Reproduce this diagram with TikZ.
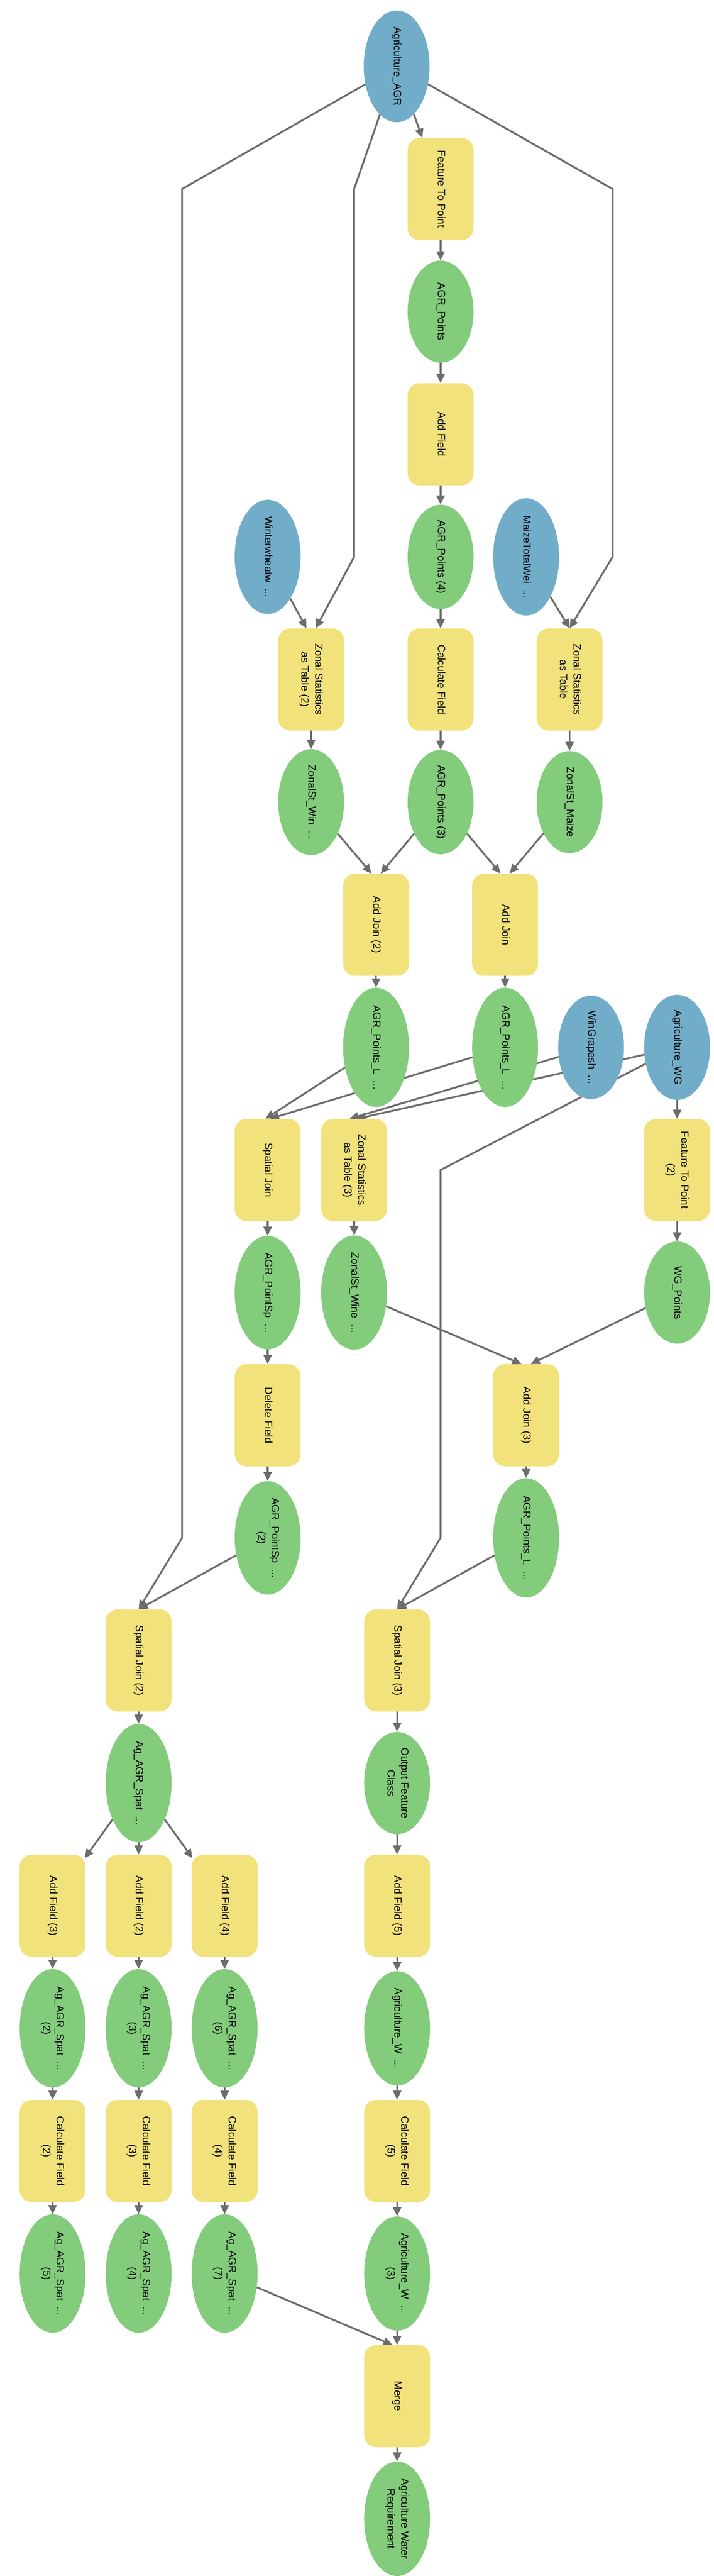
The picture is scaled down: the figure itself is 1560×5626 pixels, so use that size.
\documentclass[tikz,border=0pt]{standalone}
\usepackage{fontspec}
\setmainfont{Liberation Sans}
\usetikzlibrary{arrows.meta,backgrounds,shapes.geometric}
\definecolor{cblue}{RGB}{113,173,200}
\definecolor{cgreen}{RGB}{131,204,124}
\definecolor{cyel}{RGB}{241,226,123}
\definecolor{cline}{RGB}{108,108,108}
\newcommand\rt[1]{\rotatebox{-90}{\fontsize{23}{30}\selectfont\begin{tabular}{@{}c@{}}#1\end{tabular}}}
\tikzset{
 base/.style={minimum width=144pt,minimum height=223pt,inner sep=0pt},
 dat/.style={base,ellipse,fill=cgreen},
 inp/.style={base,ellipse,fill=cblue},
 tool/.style={base,rectangle,rounded corners=26pt,fill=cyel},
 ln/.style={draw=cline,line width=4pt,-{Triangle[length=20pt,width=18pt]}},
}
\begin{document}
\begin{tikzpicture}
\useasboundingbox (0pt,0pt) rectangle (1560pt,-5626pt);
\begin{scope}[yshift=-145pt,x=1pt,y=-267.8pt]
\node[inp] (agr) at (867,0) {\rt{Agriculture\_AGR}};
\node[tool] (ftp) at (963,1) {\rt{Feature To Point}};
\node[dat] (agrp) at (963,2) {\rt{AGR\_Points}};
\node[tool] (af) at (963,3) {\rt{Add Field}};
\node[inp] (ww) at (585,4) {\rt{Winterwheatw\ \ ...}};
\node[dat] (agrp4) at (963,4) {\rt{AGR\_Points (4)}};
\node[inp] (mz) at (1150,4) {\rt{MaizeTotalWei\ \ ...}};
\node[tool] (zs2) at (680,5) {\rt{Zonal Statistics\\as Table (2)}};
\node[tool] (cf) at (963,5) {\rt{Calculate Field}};
\node[tool] (zs) at (1245,5) {\rt{Zonal Statistics\\as Table}};
\node[dat] (zw) at (680,6) {\rt{ZonalSt\_Win\ \ ...}};
\node[dat] (agrp3) at (963,6) {\rt{AGR\_Points (3)}};
\node[dat] (zm) at (1245,6) {\rt{ZonalSt\_Maize}};
\node[tool] (aj2) at (822,7) {\rt{Add Join (2)}};
\node[tool] (aj) at (1104,7) {\rt{Add Join}};
\node[dat] (agl2) at (822,8) {\rt{AGR\_Points\_L\ \ ...}};
\node[dat] (agl) at (1104,8) {\rt{AGR\_Points\_L\ \ ...}};
\node[inp] (wg) at (1292,8) {\rt{WinGrapesh\ \ ...}};
\node[inp] (awg) at (1480,8) {\rt{Agriculture\_WG}};
\node[tool] (sj) at (585,9) {\rt{Spatial Join}};
\node[tool] (zs3) at (774,9) {\rt{Zonal Statistics\\as Table (3)}};
\node[tool] (ftp2) at (1480,9) {\rt{Feature To Point\\(2)}};
\node[dat] (aps) at (585,10) {\rt{AGR\_PointSp\ \ ...}};
\node[dat] (zwine) at (774,10) {\rt{ZonalSt\_Wine\ \ ...}};
\node[dat] (wgp) at (1480,10) {\rt{WG\_Points}};
\node[tool] (df) at (585,11) {\rt{Delete Field}};
\node[tool] (aj3) at (1150,11) {\rt{Add Join (3)}};
\node[dat] (aps2) at (585,12) {\rt{AGR\_PointSp\ \ ...\\(2)}};
\node[dat] (agl3) at (1150,12) {\rt{AGR\_Points\_L\ \ ...}};
\node[tool] (sj2) at (303,13) {\rt{Spatial Join (2)}};
\node[tool] (sj3) at (868,13) {\rt{Spatial Join (3)}};
\node[dat] (ags) at (303,14) {\rt{Ag\_AGR\_Spat\ \ ...}};
\node[dat] (ofc) at (868,14) {\rt{Output Feature\\Class}};
\node[tool] (af3) at (115,15) {\rt{Add Field (3)}};
\node[tool] (af2) at (303,15) {\rt{Add Field (2)}};
\node[tool] (af4) at (491,15) {\rt{Add Field (4)}};
\node[tool] (af5) at (868,15) {\rt{Add Field (5)}};
\node[dat] (g2) at (115,16) {\rt{Ag\_AGR\_Spat\ \ ...\\(2)}};
\node[dat] (g3) at (303,16) {\rt{Ag\_AGR\_Spat\ \ ...\\(3)}};
\node[dat] (g6) at (491,16) {\rt{Ag\_AGR\_Spat\ \ ...\\(6)}};
\node[dat] (aw) at (868,16) {\rt{Agriculture\_W\ \ ...}};
\node[tool] (cf2) at (115,17) {\rt{Calculate Field\\(2)}};
\node[tool] (cf3) at (303,17) {\rt{Calculate Field\\(3)}};
\node[tool] (cf4) at (491,17) {\rt{Calculate Field\\(4)}};
\node[tool] (cf5) at (868,17) {\rt{Calculate Field\\(5)}};
\node[dat] (g5) at (115,18) {\rt{Ag\_AGR\_Spat\ \ ...\\(5)}};
\node[dat] (g4) at (303,18) {\rt{Ag\_AGR\_Spat\ \ ...\\(4)}};
\node[dat] (g7) at (491,18) {\rt{Ag\_AGR\_Spat\ \ ...\\(7)}};
\node[dat] (aw3) at (868,18) {\rt{Agriculture\_W\ \ ...\\(3)}};
\node[tool] (merge) at (868,19) {\rt{Merge}};
\node[dat] (awr) at (868,20) {\rt{Agriculture Water\\Requirement}};
\begin{pgfonlayer}{background}
\draw[ln] (agr) -- (ftp);
\draw[ln] (agr) -- (398,1) -- (398,12) -- (sj2.north);
\draw[ln] (agr) -- (774,1) -- (774,4) -- ([xshift=10pt]zs2.north);
\draw[ln] (agr) -- (1339,1) -- (1339,4) -- (zs.north);
\foreach \a/\b in {ftp/agrp,agrp/af,af/agrp4,agrp4/cf,cf/agrp3,zs2/zw,zs/zm,
  aj2/agl2,aj/agl,awg/ftp2,sj/aps,aps/df,df/aps2,zs3/zwine,ftp2/wgp,aj3/agl3,
  sj2/ags,sj3/ofc,ags/af2,ofc/af5,af3/g2,af2/g3,af4/g6,af5/aw,g2/cf2,g3/cf3,g6/cf4,aw/cf5,
  cf2/g5,cf3/g4,cf4/g7,cf5/aw3,aw3/merge,merge/awr}
  \draw[ln] (\a) -- (\b);
\draw[ln] (ww) -- ([xshift=-10pt]zs2.north);
\draw[ln] (mz) -- (zs.north);
\draw[ln] (zw) -- ([xshift=-10pt]aj2.north);
\draw[ln] (agrp3) -- ([xshift=10pt]aj2.north);
\draw[ln] (agrp3) -- ([xshift=-10pt]aj.north);
\draw[ln] (zm) -- ([xshift=10pt]aj.north);
\draw[ln] (agl2) -- ([xshift=-5pt]sj.north);
\draw[ln] (agl) -- ([xshift=5pt]sj.north);
\draw[ln] (wg) -- ([xshift=-10pt]zs3.north);
\draw[ln] (awg) -- ([xshift=5pt]zs3.north);
\draw[ln] (awg) -- (963,9) -- (963,12) -- (sj3.north);
\draw[ln] (zwine) -- ([xshift=-10pt]aj3.north);
\draw[ln] (wgp) -- ([xshift=10pt]aj3.north);
\draw[ln] (aps2) -- (sj2.north);
\draw[ln] (agl3) -- (sj3.north);
\draw[ln] (ags) -- ([xshift=-2pt,yshift=-8pt]af3.north east);
\draw[ln] (ags) -- ([xshift=2pt,yshift=-8pt]af4.north west);
\draw[ln] (g7) -- ([xshift=-10pt]merge.north);
\end{pgfonlayer}
\end{scope}
\end{tikzpicture}
\end{document}
